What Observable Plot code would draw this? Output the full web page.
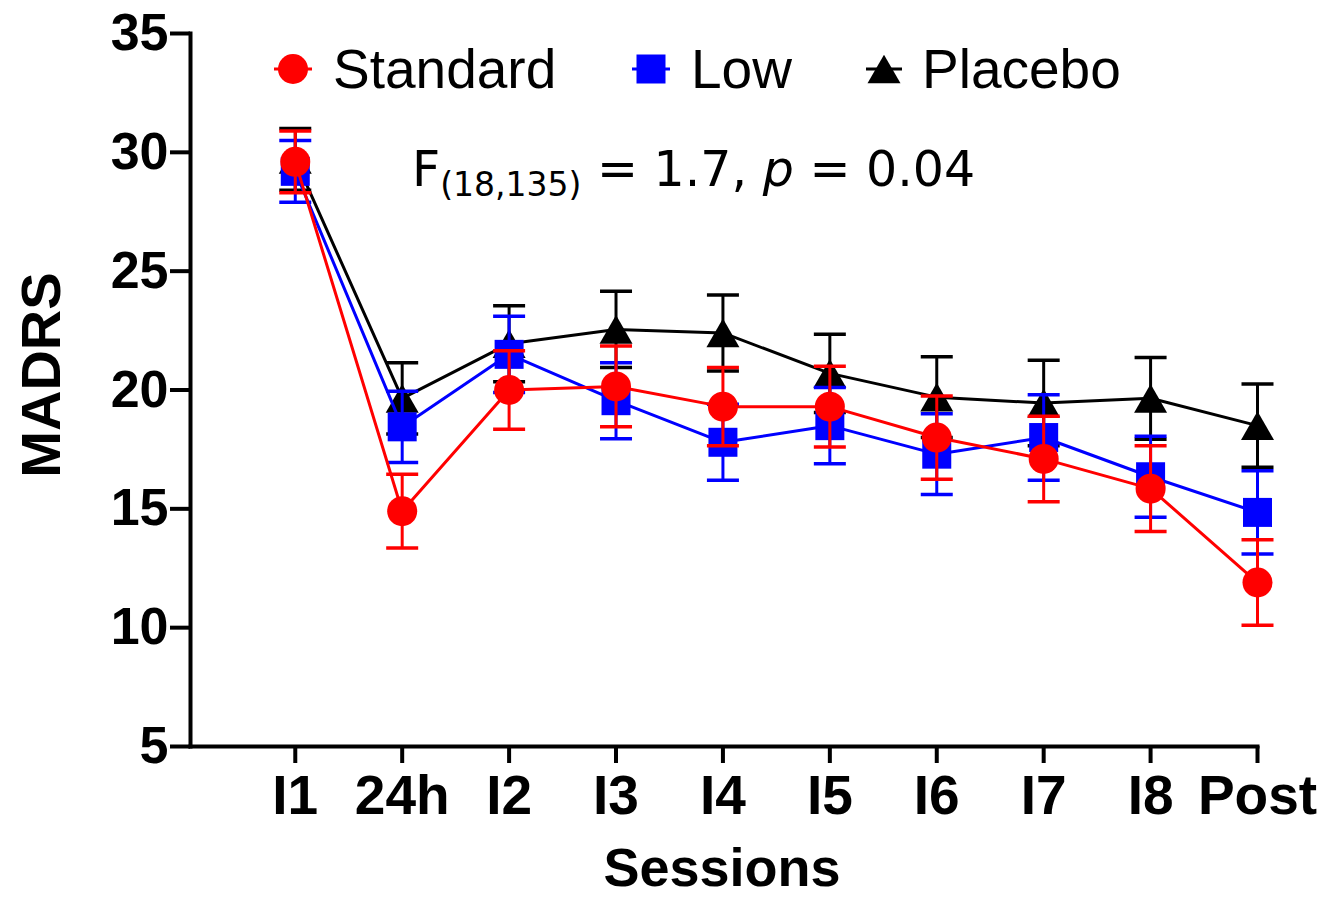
<!DOCTYPE html>
<html><head><meta charset="utf-8">
<script src="https://cdn.jsdelivr.net/npm/d3@7"></script>
<script src="https://cdn.jsdelivr.net/npm/@observablehq/plot@0.6"></script>
<style>
body{margin:0;background:#fff;}
#wrap{position:relative;width:1322px;height:899px;}
#overlay{position:absolute;left:0;top:0;pointer-events:none;}
</style></head><body>
<div id="wrap"><div id="chart"></div></div>
<script>
// ---- data ----
const sessions = ["I1","24h","I2","I3","I4","I5","I6","I7","I8","Post"];
const standardMean = [29.6, 14.9, 20.0, 20.15, 19.3, 19.3, 18.0, 17.1, 15.85, 11.9];
const standardSem  = [1.3, 1.55, 1.65, 1.7, 1.65, 1.7, 1.75, 1.8, 1.8, 1.8];
const lowMean      = [29.2, 18.45, 21.5, 19.55, 17.8, 18.5, 17.3, 18.0, 16.35, 14.85];
const lowSem       = [1.3, 1.5, 1.6, 1.6, 1.6, 1.6, 1.7, 1.8, 1.7, 1.75];
const placeboMean  = [29.7, 19.65, 21.95, 22.55, 22.4, 20.7, 19.7, 19.45, 19.65, 18.5];
const placeboSem   = [1.3, 1.5, 1.6, 1.6, 1.6, 1.65, 1.7, 1.8, 1.72, 1.75];
const yTicks = [5, 10, 15, 20, 25, 30, 35];
const seriesNames = ["Standard", "Low", "Placebo"];
const seriesColors = ["#ff0000", "#0000ff", "#000000"];
const annotation = {main: "F", sub: "(18,135)", rest1: " = 1.7, ", italic: "p", rest2: " = 0.04"};
const xTitle = "Sessions";
const yTitle = "MADRS";

// ---- symbols ----
const capSymbol = {draw(ctx, size){ const w = Math.sqrt(size/Math.PI); ctx.moveTo(-w,0); ctx.lineTo(w,0); }};
const triSymbol = {draw(ctx, size){ const r = Math.sqrt(size/Math.PI); const h = r*0.87; ctx.moveTo(0,-h); ctx.lineTo(r,h); ctx.lineTo(-r,h); ctx.closePath(); }};
const sqSymbol  = {draw(ctx, size){ const r = Math.sqrt(size/Math.PI); ctx.rect(-r,-r,2*r,2*r); }};
const circSymbol = {draw(ctx, size){ const r = Math.sqrt(size/Math.PI); ctx.moveTo(r,0); ctx.arc(0,0,r,0,2*Math.PI); }};

function rows(name, means, sems){
  return sessions.map((s,i)=>({series:name, session:s, mean:means[i], lo:means[i]-sems[i], hi:means[i]+sems[i]}));
}
const series = [
  {name:"Placebo", color:seriesColors[2], data:rows("Placebo", placeboMean, placeboSem), symbol:triSymbol, r:16.5},
  {name:"Low", color:seriesColors[1], data:rows("Low", lowMean, lowSem), symbol:sqSymbol, r:14.5},
  {name:"Standard", color:seriesColors[0], data:rows("Standard", standardMean, standardSem), symbol:circSymbol, r:15}
];

const marks = [];
for (const s of series) {
  marks.push(Plot.line(s.data, {x:"session", y:"mean", stroke:s.color, strokeWidth:3}));
  marks.push(Plot.ruleX(s.data, {x:"session", y1:"lo", y2:"hi", stroke:s.color, strokeWidth:3}));
  marks.push(Plot.dot(s.data, {x:"session", y:"hi", symbol:capSymbol, r:16, stroke:s.color, strokeWidth:3.5, fill:"none"}));
  marks.push(Plot.dot(s.data, {x:"session", y:"lo", symbol:capSymbol, r:16, stroke:s.color, strokeWidth:3.5, fill:"none"}));
  marks.push(Plot.dot(s.data, {x:"session", y:"mean", symbol:s.symbol, r:s.r, fill:s.color, stroke:"none"}));
}

const W = 1322, H = 899;
const chart = Plot.plot({
  width: W, height: H,
  marginTop: 33, marginBottom: 153, marginLeft: 190, marginRight: 65,
  style: {background:"#fff", fontFamily:"'Liberation Sans', Arial, sans-serif", color:"#000"},
  x: {type:"point", domain: sessions, padding: 0.49, align: 1, round: false},
  y: {domain: [5, 35]},
  marks: [
    Plot.axisY({ticks: yTicks, tickSize: 20, tickPadding: 2, fontSize: 52, fontWeight: "bold", label: null, strokeWidth: 4}),
    Plot.axisX({tickSize: 17, tickPadding: 11, fontSize: 55, fontWeight: "bold", label: null, strokeWidth: 4}),
    ...marks,
    Plot.frame({anchor:"left", stroke:"#000", strokeWidth:4}),
    Plot.frame({anchor:"bottom", stroke:"#000", strokeWidth:4})
  ]
});
document.getElementById("chart").appendChild(chart);

// ---- overlay: legend, annotation, axis titles ----
const ov = d3.select("#wrap").append("svg").attr("id","overlay").attr("width",W).attr("height",H);
const legendPos = [{lx:274, sx:293, tx:333}, {lx:632, sx:651, tx:691}, {lx:866, sx:884, tx:922}];
const legendSym = [{s:circSymbol, r:15}, {s:sqSymbol, r:14.5}, {s:triSymbol, r:16.5}];
seriesNames.forEach((n,i)=>{
  const p = legendPos[i], ly = 69;
  ov.append("line").attr("x1",p.lx).attr("x2",p.sx*2-p.lx).attr("y1",ly).attr("y2",ly).attr("stroke",seriesColors[i]).attr("stroke-width",3);
  ov.append("path").attr("d", d3.symbol(legendSym[i].s, Math.PI*legendSym[i].r**2)()).attr("transform",`translate(${p.sx},${ly})`).attr("fill",seriesColors[i]);
  ov.append("text").attr("x",p.tx).attr("y",88).attr("font-family","'Liberation Sans', Arial, sans-serif").attr("font-size",55).text(n);
});
const t = ov.append("text").attr("x",412).attr("y",186).attr("font-family","'DejaVu Sans', Verdana, sans-serif").attr("font-size",49).style("white-space","pre");
t.append("tspan").text(annotation.main);
t.append("tspan").attr("font-size",33).attr("dy",10).text(annotation.sub);
t.append("tspan").attr("dy",-10).text(annotation.rest1);
t.append("tspan").attr("font-style","italic").text(annotation.italic);
t.append("tspan").text(annotation.rest2);

ov.append("text").attr("transform","translate(60,375) rotate(-90)").attr("text-anchor","middle")
  .attr("font-family","'Liberation Sans', Arial, sans-serif").attr("font-weight","bold").attr("font-size",56).text(yTitle);
ov.append("text").attr("x",722).attr("y",886).attr("text-anchor","middle")
  .attr("font-family","'Liberation Sans', Arial, sans-serif").attr("font-weight","bold").attr("font-size",54).text(xTitle);
</script>
</body></html>
